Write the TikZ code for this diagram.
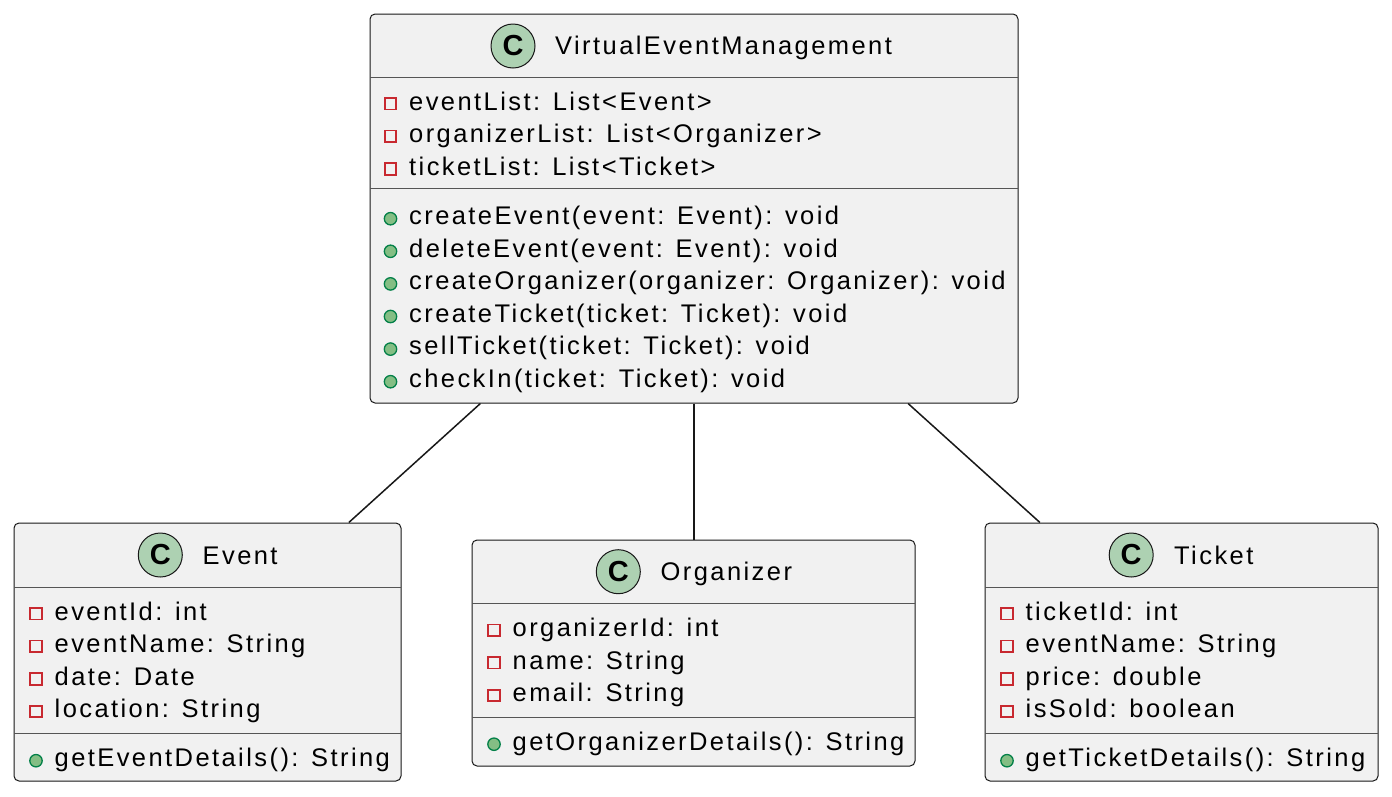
\documentclass[tikz,border=0pt]{standalone}
\usepackage{fontspec}
\setmainfont{Liberation Sans}[LetterSpace=9.5]
\newfontfamily\iconfont{Liberation Sans}
\definecolor{boxfill}{HTML}{F1F1F1}
\definecolor{boxline}{HTML}{181818}
\definecolor{sepline}{HTML}{555555}
\definecolor{cfill}{HTML}{ADD1B2}
\definecolor{privred}{HTML}{C82930}
\definecolor{pubfill}{HTML}{84BE84}
\definecolor{publine}{HTML}{038048}
\tikzset{
  umlbox/.style={draw=boxline, fill=boxfill, rounded corners=5pt, inner sep=0pt, line width=1pt},
  txt/.style={anchor=base west, inner sep=0pt, font=\fontsize{25.5}{30}\selectfont, text=black},
  cicon/.style={circle, draw=boxline, fill=cfill, minimum size=44pt, inner sep=0pt, line width=1pt,
    font=\iconfont\bfseries\fontsize{29}{29}\selectfont},
  sepl/.style={draw=sepline, line width=1pt},
  privicon/.style={rectangle, draw=privred, fill=boxfill, line width=1.7pt, minimum size=11.5pt, inner sep=0pt},
  pubicon/.style={circle, draw=publine, fill=pubfill, line width=1.3pt, minimum size=12.4pt, inner sep=0pt},
  assoc/.style={draw=boxline, line width=1.5pt}
}
\newcommand\umlattr[4]{%
  \node[privicon] (#1i) at ({#2-18.5},{#3-6.3}) {};
  \node[txt] (#1) at (#2,#3) {#4};}
\newcommand\umlmeth[4]{%
  \node[pubicon] (#1i) at ({#2-18.5},{#3-5.8}) {};
  \node[txt] (#1) at (#2,#3) {#4};}
\begin{document}
\begin{tikzpicture}[x=1pt,y=-1pt]
\useasboundingbox[fill=white] (0,0) rectangle (1392,796);

% boxes
\node[umlbox, minimum width=648pt, minimum height=389pt] (vem) at (694,208.5) {};
\node[umlbox, minimum width=387pt, minimum height=258pt] (event) at (207.5,652) {};
\node[umlbox, minimum width=443pt, minimum height=226pt] (org) at (693.5,653) {};
\node[umlbox, minimum width=393pt, minimum height=258pt] (ticket) at (1181.5,652) {};

% connectors
\draw[assoc] (vem) -- (event);
\draw[assoc] (vem.south) -- (vem.south |- org.north);
\draw[assoc] (vem) -- (ticket);

% VirtualEventManagement
\node[cicon] (vemC) at (513,46) {C};
\node[txt] (vemT) at (555,54) {VirtualEventManagement};
\draw[sepl] (370,77) -- (1018,77);
\umlattr{v1}{409}{110}{eventList: List<Event>}
\umlattr{v2}{409}{142.6}{organizerList: List<Organizer>}
\umlattr{v3}{409}{175.2}{ticketList: List<Ticket>}
\draw[sepl] (370,188) -- (1018,188);
\umlmeth{v4}{409}{224.5}{createEvent(event: Event): void}
\umlmeth{v5}{409}{257.1}{deleteEvent(event: Event): void}
\umlmeth{v6}{409}{289.7}{createOrganizer(organizer: Organizer): void}
\umlmeth{v7}{409}{322.3}{createTicket(ticket: Ticket): void}
\umlmeth{v8}{409}{354.9}{sellTicket(ticket: Ticket): void}
\umlmeth{v9}{409}{387.5}{checkIn(ticket: Ticket): void}

% Event
\node[cicon] (evC) at (160.3,555) {C};
\node[txt] (evT) at (202.5,564) {Event};
\draw[sepl] (14,587) -- (401,587);
\umlattr{e1}{54.5}{620}{eventId: int}
\umlattr{e2}{54.5}{652.6}{eventName: String}
\umlattr{e3}{54.5}{685.2}{date: Date}
\umlattr{e4}{54.5}{717.8}{location: String}
\draw[sepl] (14,733) -- (401,733);
\umlmeth{e5}{54.5}{766.5}{getEventDetails(): String}

% Organizer
\node[cicon] (orC) at (618.3,571.7) {C};
\node[txt] (orT) at (660.5,580.5) {Organizer};
\draw[sepl] (472,603.5) -- (915,603.5);
\umlattr{o1}{512.5}{636.5}{organizerId: int}
\umlattr{o2}{512.5}{669.1}{name: String}
\umlattr{o3}{512.5}{701.7}{email: String}
\draw[sepl] (472,717.3) -- (915,717.3);
\umlmeth{o4}{512.5}{750}{getOrganizerDetails(): String}

% Ticket
\node[cicon] (tiC) at (1131.2,555) {C};
\node[txt] (tiT) at (1174,564) {Ticket};
\draw[sepl] (985,587) -- (1378,587);
\umlattr{t1}{1025.5}{620}{ticketId: int}
\umlattr{t2}{1025.5}{652.6}{eventName: String}
\umlattr{t3}{1025.5}{685.2}{price: double}
\umlattr{t4}{1025.5}{717.8}{isSold: boolean}
\draw[sepl] (985,733) -- (1378,733);
\umlmeth{t5}{1025.5}{766.5}{getTicketDetails(): String}
\end{tikzpicture}
\end{document}
